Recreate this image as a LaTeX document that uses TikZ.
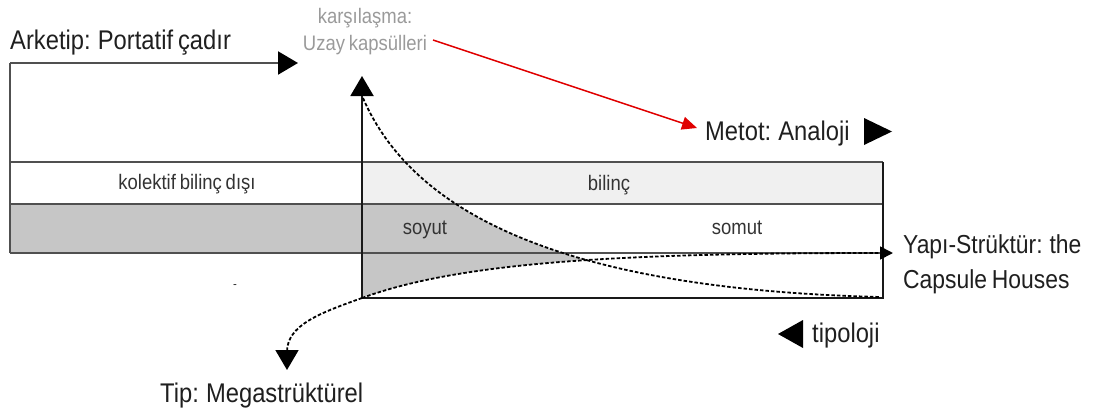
\documentclass[tikz,border=0pt]{standalone}
\usepackage{fontspec}
\setmainfont{Liberation Sans}[FakeStretch=0.88, WordSpace=0.75]
\usetikzlibrary{arrows.meta}
\definecolor{bandlight}{HTML}{F0F0F0}
\definecolor{bandgray}{HTML}{C6C6C6}
\definecolor{linegray}{HTML}{505050}
\definecolor{txtgray}{HTML}{9A9A9A}
\definecolor{arrred}{HTML}{E00000}
\begin{document}
\begin{tikzpicture}[x=1pt,y=-1pt,
  bigtxt/.style={inner sep=0pt, font=\fontsize{27}{33}\selectfont, text=black!88},
  smalltxt/.style={inner sep=0pt, font=\fontsize{21}{27}\selectfont, text=black!80},
  boxline/.style={draw=linegray, line width=2.2pt},
  frameline/.style={draw=black!90, line width=2pt},
  dotline/.style={draw=black, line width=1.8pt, dash pattern=on 3.5pt off 2pt},
  bigtip/.style={-{Triangle[length=20pt,width=23pt,color=black]}},
  smalltip/.style={-{Triangle[length=13pt,width=13pt,color=black]}},
  redtip/.style={-{Triangle[length=15pt,width=13pt]}},
  marker/.style={fill=black}]
\useasboundingbox (0,0) rectangle (1101,415);

% named points
\coordinate (tl) at (10,63);
\coordinate (toptip) at (298,63);
\coordinate (lbot) at (10,253);
\coordinate (vbot) at (362,298);
\coordinate (vtop) at (362,76);
\coordinate (rtip) at (893,253);
\coordinate (rmid) at (883,253);
\coordinate (c1s) at (363,98);
\coordinate (c1e) at (880,297);
\coordinate (c2l) at (287,370);
\coordinate (redA) at (433,40);
\coordinate (redB) at (697,128);

% bands
\fill[white] (10,162) rectangle (362,204);
\fill[bandlight] (362,162) rectangle (883,204);
\fill[bandgray] (10,204) rectangle (362,253);

% gray region between curves
\begin{scope}
  \clip (362,98) .. controls (420,230) and (600,290) .. (880,297) -- (362,297) -- cycle;
  \clip (362,298) .. controls (460,262) and (620,253) .. (880,252) -- (880,204) -- (362,204) -- cycle;
  \fill[bandgray] (362,204) rectangle (883,298);
\end{scope}

% lines of the table
\draw[boxline] (10,162) -- (883,162);
\draw[boxline] (10,204) -- (883,204);
\draw[boxline] (lbot) -- (rmid);
\draw[boxline] (lbot) -- (tl);
\draw[boxline, bigtip] (tl) -- (toptip);
\draw[frameline] (883,162) -- (883,298) -- (vbot);
\draw[frameline, bigtip] (vbot) -- (vtop);

% dashed curves
\draw[dotline] (c1s) .. controls (420,230) and (600,290) .. (c1e);
\draw[dotline, bigtip] (vbot) .. controls (320,313) and (287,325) .. (287,352) -- (c2l);
\draw[dotline, smalltip] (vbot) .. controls (460,262) and (620,253) .. (880,253) -- (rtip);

% red arrow
\draw[arrred, line width=1.5pt, redtip] (redA) -- (redB);

% texts
\node[bigtxt, anchor=base west] (arketip) at (10,49) {Arketip: Portatif çadır};
\node[smalltxt, text=txtgray, align=center] (kars) at (365,32) {karşılaşma:\\Uzay kapsülleri};
\node[bigtxt, anchor=base west] (metot) at (705,140) {Metot: Analoji};
\node[bigtxt, anchor=west, align=left, font=\fontsize{26}{35}\selectfont] (yapi) at (903,264) {Yapı-Strüktür: the\\Capsule Houses};
\node[bigtxt, anchor=base west] (tipoloji) at (812,342) {tipoloji};
\node[bigtxt, anchor=base west] (tip) at (160,402) {Tip: Megastrüktürel};
\node[smalltxt, anchor=base] (kolektif) at (187,189) {kolektif bilinç dışı};
\node[smalltxt, anchor=base] (bilinc) at (609,190) {bilinç};
\node[smalltxt, anchor=base] (soyut) at (425,234) {soyut};
\node[smalltxt, anchor=base] (somut) at (737,234) {somut};
\node[smalltxt, anchor=base, font=\fontsize{13}{15}\selectfont] (dash) at (235,288) {-};

% markers
\fill[marker] (864,118) -- (864,145) -- (892,131.5) -- cycle;
\fill[marker] (803,320) -- (803,348) -- (778,334) -- cycle;
\end{tikzpicture}
\end{document}
